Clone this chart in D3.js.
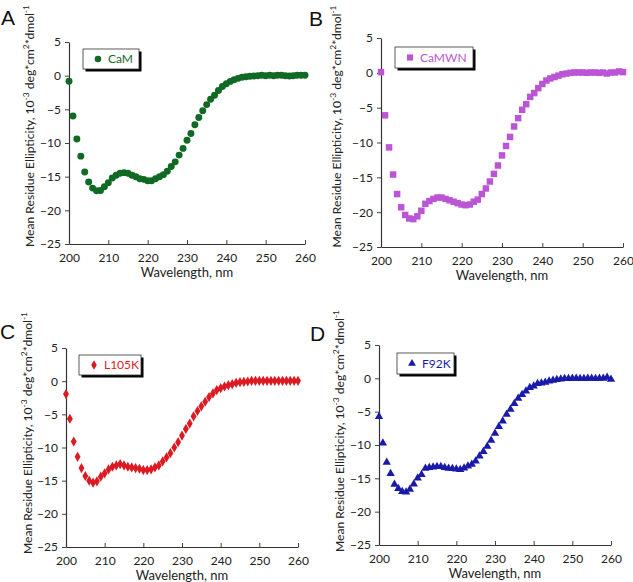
<!DOCTYPE html>
<html><head><meta charset="utf-8">
<script src="https://cdn.jsdelivr.net/npm/d3@7"></script>
<style>body{margin:0;background:#fff}svg{display:block}</style>
</head><body>
<svg id="c" width="633" height="582"></svg>
<script>
const wavelengths = d3.range(200, 261);
const camValues = [-0.83,-6.0,-9.4,-11.95,-14.3,-15.8,-16.7,-17.1,-17.05,-16.5,-15.9,-15.2,-14.8,-14.5,-14.4,-14.5,-14.8,-15.0,-15.3,-15.4,-15.6,-15.6,-15.3,-15.0,-14.7,-14.2,-13.5,-12.8,-11.8,-10.8,-9.6,-8.6,-7.3,-6.2,-5.2,-4.3,-3.5,-2.9,-2.2,-1.6,-1.2,-0.85,-0.6,-0.4,-0.25,-0.15,-0.1,-0.05,0.0,0.05,0.0,0.05,0.0,0.05,0.05,0.0,-0.05,0.0,0.05,0.05,0.05];
const camwnValues = [0.1,-6.1,-10.7,-14.6,-17.4,-19.3,-20.4,-20.9,-21.0,-20.6,-19.8,-18.8,-18.4,-18.1,-17.9,-17.9,-18.1,-18.3,-18.5,-18.7,-18.9,-19.0,-18.9,-18.5,-18.2,-17.4,-16.6,-15.6,-14.5,-13.3,-11.85,-10.5,-9.2,-7.7,-6.5,-5.3,-4.5,-3.45,-2.9,-2.2,-1.6,-1.1,-0.8,-0.6,-0.4,-0.2,-0.1,0.0,0.05,0.05,0.05,0.0,0.05,0.05,0.0,0.05,-0.1,0.05,0.05,0.2,0.1];
const l105kValues = [-1.95,-5.67,-9.1,-11.4,-13.1,-14.3,-15.0,-15.3,-15.1,-14.4,-13.9,-13.3,-12.9,-12.7,-12.5,-12.7,-12.9,-13.0,-13.1,-13.2,-13.4,-13.4,-13.3,-13.0,-12.7,-12.1,-11.5,-10.85,-10.0,-9.2,-8.2,-7.2,-6.4,-5.3,-4.5,-3.8,-3.1,-2.4,-1.85,-1.35,-1.05,-0.8,-0.6,-0.45,-0.25,-0.15,-0.1,-0.05,0.05,0.05,0.05,0.05,0.05,0.05,0.05,0.05,0.05,0.05,0.05,0.05,0.05];
const f92kValues = [-5.75,-9.7,-12.6,-14.3,-15.9,-16.55,-17.0,-17.05,-16.65,-15.85,-14.95,-14.45,-13.5,-13.4,-13.3,-13.25,-13.25,-13.4,-13.5,-13.55,-13.6,-13.7,-13.45,-13.15,-12.9,-12.4,-11.65,-11.0,-10.2,-9.3,-8.25,-7.25,-6.4,-5.4,-4.65,-3.8,-3.0,-2.45,-1.9,-1.4,-1.15,-0.8,-0.7,-0.6,-0.4,-0.3,-0.2,-0.1,-0.05,-0.05,0.0,0.0,-0.05,-0.05,0.0,0.0,-0.05,0.0,0.0,0.15,-0.15];
const xTicks = [200,210,220,230,240,250,260];
const yTicks = [5,0,-5,-10,-15,-20,-25];
const seriesNames = ["CaM","CaMWN","L105K","F92K"];
const panelLetters = ["A","B","C","D"];

const panels = [
  {x0:69, x1:305, yT:42, yB:244, vals:camValues, color:"#106a24", sym:d3.symbolCircle, size:38, lx:83, ly:49, lw:56, lh:20, xl:277, lbx:34, lby:126},
  {x0:381, x1:623, yT:38, yB:247, vals:camwnValues, color:"#bb55d6", sym:d3.symbolSquare, size:42, lx:395, ly:47, lw:78, lh:21, xl:280, lbx:341, lby:126.5},
  {x0:66, x1:298, yT:348, yB:547, vals:l105kValues, color:"#dc1a22", sym:d3.symbolDiamond, size:30, lx:79, ly:355, lw:62, lh:20, xl:580, lbx:32, lby:433},
  {x0:379, x1:611, yT:345, yB:545, vals:f92kValues, color:"#1a1aaa", sym:d3.symbolTriangle, size:30, lx:397, ly:353, lw:57, lh:21, xl:578, lbx:344, lby:431}
];
const letterPos = [[1,25],[309,26],[0,339],[310,341]];
const font = "Lato, 'Open Sans', sans-serif";
const svg = d3.select("#c");

panels.forEach((p,i)=>{
  const g = svg.append("g");
  const x = d3.scaleLinear().domain([200,260]).range([p.x0,p.x1]);
  const y = d3.scaleLinear().domain([-25,5]).range([p.yB,p.yT]);
  const xa = g.append("g").attr("transform",`translate(0,${p.yB})`)
    .call(d3.axisBottom(x).tickValues(xTicks).tickSize(-4).tickSizeOuter(0).tickPadding(8));
  const ya = g.append("g").attr("transform",`translate(${p.x0},0)`)
    .call(d3.axisLeft(y).tickValues(yTicks).tickSize(4).tickSizeOuter(0).tickPadding(4));
  [xa,ya].forEach(a=>{
    a.select(".domain").attr("stroke","#333").attr("stroke-width",1.2);
    a.selectAll(".tick line").attr("stroke","#444");
    a.selectAll("text").attr("font-family",font).attr("font-size",12).attr("fill","#222");
  });
  xa.selectAll(".tick text").attr("dy","0.85em");
  g.append("text").attr("x",(p.x0+p.x1)/2).attr("y",p.xl).attr("text-anchor","middle")
    .attr("font-family",font).attr("font-size",13).attr("fill","#222").text("Wavelength, nm");
  // y label, scaled to the reference length
  const t = g.append("text").attr("transform",`translate(${p.lbx},${p.lby}) rotate(-90)`)
    .attr("text-anchor","middle").attr("font-family",font).attr("font-size",12.5).attr("fill","#222");
  t.append("tspan").text("Mean Residue Ellipticity, 10");
  t.append("tspan").attr("class","sup").attr("dy",-5).text("-3");
  t.append("tspan").attr("dy",5).text(" deg*cm");
  t.append("tspan").attr("class","sup").attr("dy",-5).text("2");
  t.append("tspan").attr("dy",5).text("*dmol");
  t.append("tspan").attr("class","sup").attr("dy",-5).text("-1");
  t.selectAll(".sup").attr("font-size",9);
  const len = t.node().getComputedTextLength();
  const fs = 12.5*243/len;
  t.attr("font-size",fs);
  t.selectAll(".sup").attr("font-size",fs*0.7);
  t.selectAll("tspan").each(function(){const s=d3.select(this); const dy=+s.attr("dy"); if(dy) s.attr("dy", dy>0? fs*0.4 : -fs*0.4);});
  g.append("g").selectAll("path").data(wavelengths.map((w,j)=>[w,p.vals[j]])).join("path")
    .attr("transform",d=>`translate(${x(d[0])},${y(d[1])})`)
    .attr("d",d3.symbol().type(p.sym).size(p.size)).attr("fill",p.color);
  g.append("rect").attr("x",p.lx+2.5).attr("y",p.ly+2.5).attr("width",p.lw).attr("height",p.lh).attr("fill","#000");
  g.append("rect").attr("x",p.lx).attr("y",p.ly).attr("width",p.lw).attr("height",p.lh).attr("fill","#fff").attr("stroke","#333").attr("stroke-width",0.8);
  g.append("path").attr("transform",`translate(${p.lx+15},${p.ly+p.lh/2})`).attr("d",d3.symbol().type(p.sym).size(p.size*0.9)).attr("fill",p.color);
  g.append("text").attr("x",p.lx+25).attr("y",p.ly+p.lh/2+4).attr("font-family",font).attr("font-size",12).attr("fill",p.color).text(seriesNames[i]);
  svg.append("text").attr("x",letterPos[i][0]).attr("y",letterPos[i][1]).attr("font-family","'Liberation Sans', Arial, sans-serif").attr("font-size",21).attr("fill","#111").text(panelLetters[i]);
});
</script>
</body></html>
